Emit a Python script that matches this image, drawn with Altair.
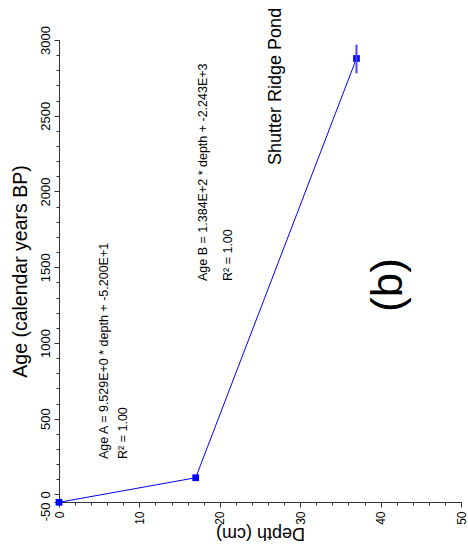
import altair as alt
import pandas as pd

# ---- data ----
depth_cm = [0, 17, 37]
age_bp = [-52, 110, 2878]

err_depth = [37]
err_low = [2780]
err_high = [2970]

ann_text = [
    "Age A = 9.529E+0 * depth + -5.200E+1",
    "R\u00b2 = 1.00",
    "Age B = 1.384E+2 * depth + -2.243E+3",
    "R\u00b2 = 1.00",
    "Shutter Ridge Pond",
]
ann_depth = [6.1, 8.5, 18.4, 21.5, 27.6]
ann_age = [234, 234, 1409, 1409, 2175]
ann_size = [12.5, 12.5, 12.5, 12.5, 18]

panel_text = ["(b)"]
panel_depth = [41.0]
panel_age = [1382]

x_major = list(range(0, 51, 10))
x_minor = list(range(0, 51, 2))
y_major = [-50] + list(range(0, 3001, 500))
y_minor = list(range(0, 3001, 100))

FONT = "Liberation Sans"
BLUE = "#0000ff"
AXC = "#333333"

pts = pd.DataFrame({"depth": depth_cm, "age": age_bp})
err = pd.DataFrame({"depth": err_depth, "lo": err_low, "hi": err_high})
ann = pd.DataFrame({"depth": ann_depth, "age": ann_age, "text": ann_text, "fs": ann_size})
pan = pd.DataFrame({"depth": panel_depth, "age": panel_age, "text": panel_text})

xscale = alt.Scale(domain=[0, 50], nice=False, zero=False)
yscale = alt.Scale(domain=[-50, 3000], nice=False, zero=False)

x_axis = alt.Axis(
    orient="bottom",
    values=x_major,
    labelExpr="'' + datum.value",
    labelAngle=270,
    labelAlign="right",
    labelBaseline="middle",
    labelPadding=4,
    labelFont=FONT,
    labelFontSize=12,
    labelColor="black",
    labelOverlap=False,
    labelFlush=False,
    tickSize=5,
    tickColor=AXC,
    domainColor=AXC,
    grid=False,
    title="Depth (cm)",
    titleFont=FONT,
    titleFontSize=18,
    titleFontWeight="normal",
    titleColor="black",
    titleAngle=180,
    titleAlign="center",
    titleBaseline="middle",
    titleX=201,
    titleY=30,
)

y_axis = alt.Axis(
    orient="left",
    values=y_major,
    labelExpr="'' + datum.value",
    labelAngle=270,
    labelAlign={"condition": {"test": "datum.value === -50", "value": "right"}, "value": "center"},
    labelBaseline="bottom",
    labelPadding=2,
    labelFont=FONT,
    labelFontSize=13,
    labelColor="black",
    labelOverlap=False,
    labelFlush=False,
    tickSize=5,
    tickColor=AXC,
    domainColor=AXC,
    grid=False,
    title="Age (calendar years BP)",
    titleFont=FONT,
    titleFontSize=19.5,
    titleFontWeight="normal",
    titleColor="black",
    titleAngle=270,
    titleAlign="center",
    titleBaseline="middle",
    titleX=-39,
    titleY=231,
)

x_minor_axis = alt.Axis(
    orient="bottom", values=x_minor, labels=False, tickSize=3, tickColor=AXC,
    domain=False, grid=False, title=None,
)
y_minor_axis = alt.Axis(
    orient="left", values=y_minor, labels=False, tickSize=3, tickColor=AXC,
    domain=False, grid=False, title=None,
)

line = alt.Chart(pts).mark_line(color=BLUE, strokeWidth=1).encode(
    x=alt.X("depth:Q", scale=xscale, axis=x_axis),
    y=alt.Y("age:Q", scale=yscale, axis=y_axis),
)

squares = alt.Chart(pts).mark_square(color=BLUE, size=45, opacity=1).encode(
    x=alt.X("depth:Q", scale=xscale, axis=x_minor_axis),
    y=alt.Y("age:Q", scale=yscale, axis=y_minor_axis),
)

ebar = alt.Chart(err).mark_rule(color="#4646ff", strokeWidth=2).encode(
    x=alt.X("depth:Q", scale=xscale, axis=None),
    y=alt.Y("lo:Q", scale=yscale, axis=None),
    y2="hi:Q",
)

labels = alt.Chart(ann).mark_text(
    angle=270, align="left", baseline="alphabetic", font=FONT, color="black"
).encode(
    x=alt.X("depth:Q", scale=xscale, axis=None),
    y=alt.Y("age:Q", scale=yscale, axis=None),
    text="text:N",
    size=alt.Size("fs:Q", scale=None, legend=None),
)

panel = alt.Chart(pan).mark_text(
    angle=270, align="center", baseline="middle", font=FONT, color="black", fontSize=44
).encode(
    x=alt.X("depth:Q", scale=xscale, axis=None),
    y=alt.Y("age:Q", scale=yscale, axis=None),
    text="text:N",
)

chart = (
    alt.layer(line, squares, ebar, labels, panel)
    .resolve_axis(x="independent", y="independent")
    .properties(
        width=402,
        height=462,
        autosize=alt.AutoSizeParams(type="none"),
        padding={"left": 59, "top": 40, "right": 7, "bottom": 55},
        background="white",
    )
    .configure_view(stroke=None)
)

chart.save("out.html", embed_options={"renderer": "svg", "actions": False})
